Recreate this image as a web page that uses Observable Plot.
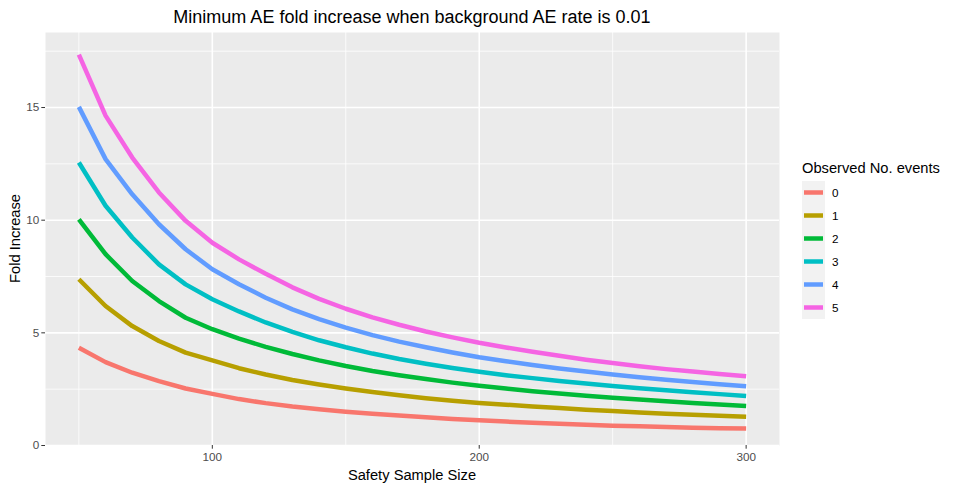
<!DOCTYPE html>
<html>
<head>
<meta charset="utf-8">
<script src="https://cdn.jsdelivr.net/npm/d3@7"></script>
<script src="https://cdn.jsdelivr.net/npm/@observablehq/plot@0.6"></script>
<style>
  body { margin: 0; background: #ffffff; }
  #wrap { position: relative; width: 954px; height: 491px; font-family: "Liberation Sans", Arial, sans-serif; }
  #wrap > svg { position: absolute; left: 0; top: 0; }
  #overlay { pointer-events: none; }
</style>
</head>
<body>
<div id="wrap"></div>
<script>
// ---- data ----
const sampleSize = [50, 60, 70, 80, 90, 100, 110, 120, 130, 140, 150, 160, 170, 180, 190, 200, 210, 220, 230, 240, 250, 260, 270, 280, 290, 300];
const eventCounts = ["0", "1", "2", "3", "4", "5"];
const fold0 = [4.34, 3.70, 3.23, 2.86, 2.53, 2.29, 2.06, 1.88, 1.73, 1.61, 1.50, 1.41, 1.33, 1.25, 1.18, 1.12, 1.06, 1.01, 0.97, 0.92, 0.88, 0.85, 0.82, 0.79, 0.77, 0.75];
const fold1 = [7.38, 6.19, 5.30, 4.64, 4.12, 3.78, 3.43, 3.15, 2.91, 2.71, 2.53, 2.37, 2.23, 2.10, 1.99, 1.89, 1.81, 1.73, 1.66, 1.59, 1.53, 1.47, 1.41, 1.37, 1.32, 1.28];
const fold2 = [10.04, 8.49, 7.30, 6.41, 5.67, 5.16, 4.74, 4.38, 4.06, 3.78, 3.53, 3.31, 3.12, 2.95, 2.79, 2.65, 2.53, 2.41, 2.31, 2.21, 2.12, 2.04, 1.96, 1.89, 1.82, 1.75];
const fold3 = [12.56, 10.64, 9.23, 8.04, 7.15, 6.49, 5.95, 5.46, 5.04, 4.67, 4.36, 4.08, 3.84, 3.63, 3.44, 3.27, 3.12, 2.99, 2.86, 2.75, 2.64, 2.54, 2.45, 2.36, 2.28, 2.20];
const fold4 = [15.03, 12.71, 11.15, 9.82, 8.71, 7.82, 7.16, 6.56, 6.04, 5.61, 5.23, 4.90, 4.61, 4.36, 4.13, 3.92, 3.74, 3.57, 3.42, 3.28, 3.15, 3.03, 2.92, 2.82, 2.72, 2.63];
const fold5 = [17.35, 14.64, 12.78, 11.23, 9.97, 9.00, 8.26, 7.62, 7.02, 6.51, 6.07, 5.69, 5.36, 5.06, 4.80, 4.56, 4.35, 4.16, 3.98, 3.81, 3.66, 3.52, 3.39, 3.28, 3.17, 3.07];
const seriesColors = ["#F8766D", "#B79F00", "#00BA38", "#00BFC4", "#619CFF", "#F564E3"];
const xTicks = [100, 200, 300];
const xMinor = [50, 150, 250];
const yTicks = [0, 5, 10, 15];
const yMinor = [2.5, 7.5, 12.5, 17.5];
const titleText = "Minimum AE fold increase when background AE rate is 0.01";
const xLabel = "Safety Sample Size";
const yLabel = "Fold Increase";
const legendTitle = "Observed No. events";

// ---- long table ----
const series = [fold0, fold1, fold2, fold3, fold4, fold5];
const rows = series.flatMap((vals, i) => vals.map((v, j) => ({n: sampleSize[j], fold: v, events: eventCounts[i]})));

const W = 954, H = 491;
const mL = 45, mR = 175, mT = 32, mB = 46;
const font = "Liberation Sans, Arial, sans-serif";

const chart = Plot.plot({
  width: W, height: H,
  marginLeft: mL, marginRight: mR, marginTop: mT, marginBottom: mB,
  x: {domain: [37.5, 312.5]},
  y: {domain: [0, 18.33]},
  color: {domain: eventCounts, range: seriesColors},
  style: {fontFamily: font, fontSize: "11.7px", background: "#ffffff", color: "#4D4D4D"},
  marks: [
    Plot.frame({fill: "#EBEBEB", stroke: "none"}),
    Plot.gridX(xMinor, {stroke: "#ffffff", strokeOpacity: 1, strokeWidth: 0.8}),
    Plot.gridY(yMinor, {stroke: "#ffffff", strokeOpacity: 1, strokeWidth: 0.8}),
    Plot.gridX(xTicks, {stroke: "#ffffff", strokeOpacity: 1, strokeWidth: 1.6}),
    Plot.gridY(yTicks, {stroke: "#ffffff", strokeOpacity: 1, strokeWidth: 1.6}),
    Plot.line(rows, {x: "n", y: "fold", z: "events", stroke: "events", strokeWidth: 4.5, strokeLinecap: "butt", strokeLinejoin: "round"}),
    Plot.axisX(xTicks, {tickSize: 3.7, tickPadding: 3, stroke: "#333333", fill: "#4D4D4D", label: null, fontSize: 11.7}),
    Plot.axisY(yTicks, {tickSize: 3.7, tickPadding: 2.5, stroke: "#333333", fill: "#4D4D4D", label: null, fontSize: 11.7})
  ]
});

const wrap = document.getElementById("wrap");
wrap.appendChild(chart);

// ---- overlay for titles and legend ----
const ov = d3.select(wrap).append("svg").attr("id", "overlay")
  .attr("width", W).attr("height", H)
  .style("font-family", font);

const panelCx = mL + (W - mL - mR) / 2;
const panelCy = mT + (H - mT - mB) / 2;

ov.append("text").attr("x", panelCx).attr("y", 22.5).attr("text-anchor", "middle")
  .attr("font-size", 18).attr("fill", "#000").text(titleText);
ov.append("text").attr("x", panelCx).attr("y", 480).attr("text-anchor", "middle")
  .attr("font-size", 14.7).attr("fill", "#000").text(xLabel);
ov.append("text").attr("transform", `translate(20,${panelCy}) rotate(-90)`).attr("text-anchor", "middle")
  .attr("font-size", 14.7).attr("fill", "#000").text(yLabel);

// legend
const lgX = 802, lgY0 = 181, keyH = 23;
ov.append("text").attr("x", lgX).attr("y", 173).attr("font-size", 14.7).attr("fill", "#000").text(legendTitle);
ov.append("rect").attr("x", lgX).attr("y", lgY0).attr("width", 23).attr("height", keyH * eventCounts.length)
  .attr("fill", "#F2F2F2");
const items = ov.selectAll("g.item").data(eventCounts).join("g")
  .attr("transform", (d, i) => `translate(${lgX},${lgY0 + i * keyH})`);
items.append("line").attr("x1", 2).attr("x2", 21).attr("y1", keyH / 2).attr("y2", keyH / 2)
  .attr("stroke", (d, i) => seriesColors[i]).attr("stroke-width", 4.5);
items.append("text").attr("x", 30).attr("y", keyH / 2 + 4.2).attr("font-size", 11.7).attr("fill", "#000").text(d => d);
</script>
</body>
</html>
